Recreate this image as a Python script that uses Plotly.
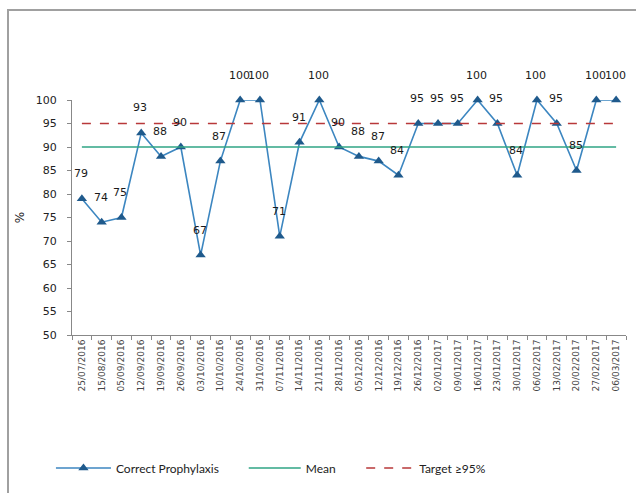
import plotly.graph_objects as go

# Weekly audit dates and percentage of correct prophylaxis
dates = [
    "25/07/2016", "15/08/2016", "05/09/2016", "12/09/2016", "19/09/2016",
    "26/09/2016", "03/10/2016", "10/10/2016", "24/10/2016", "31/10/2016",
    "07/11/2016", "14/11/2016", "21/11/2016", "28/11/2016", "05/12/2016",
    "12/12/2016", "19/12/2016", "26/12/2016", "02/01/2017", "09/01/2017",
    "16/01/2017", "23/01/2017", "30/01/2017", "06/02/2017", "13/02/2017",
    "20/02/2017", "27/02/2017", "06/03/2017",
]
correct = [79, 74, 75, 93, 88, 90, 67, 87, 100, 100, 71, 91, 100, 90, 88,
           87, 84, 95, 95, 95, 100, 95, 84, 100, 95, 85, 100, 100]
mean_val = [90] * len(dates)
target_val = [95] * len(dates)
y_ticks = [50, 55, 60, 65, 70, 75, 80, 85, 90, 95, 100]

fig = go.Figure()

fig.add_trace(go.Scatter(
    x=dates, y=correct, name="Correct Prophylaxis", mode="lines+markers",
    line=dict(color="#3c86c0", width=1.6),
    marker=dict(symbol="triangle-up", size=9, color="#1f5a8c"),
    cliponaxis=False, legend="legend",
))
fig.add_trace(go.Scatter(
    x=dates, y=mean_val, name="Mean", mode="lines",
    line=dict(color="#2fa585", width=1.6), legend="legend2",
))
fig.add_trace(go.Scatter(
    x=dates, y=target_val, name="Target \u226595%", mode="lines",
    line=dict(color="#b8383a", width=1.3, dash="dash"), legend="legend3",
))

# Value labels above each point
for d, v in zip(dates, correct):
    fig.add_annotation(
        x=d, y=v, text=str(v), showarrow=False, yshift=25, xshift=-1,
        font=dict(family="DejaVu Sans", size=11, color="#1a1a1a"),
    )

legend_font = dict(family="Lato", size=12, color="#222222")


def legend_box(x, width):
    return dict(
        orientation="h", x=x, xanchor="left", y=-0.566, yanchor="middle",
        font=legend_font, itemwidth=width, bgcolor="rgba(0,0,0,0)",
    )


fig.update_layout(
    width=636, height=493,
    margin=dict(l=72, r=10, t=100, b=158),
    paper_bgcolor="white", plot_bgcolor="white",
    showlegend=True,
    legend=legend_box(-0.038, 55),
    legend2=legend_box(0.31, 52),
    legend3=legend_box(0.522, 48),
    xaxis=dict(
        type="category", tickson="boundaries", ticks="outside", ticklen=4,
        tickcolor="#888888", showline=True, linecolor="#888888", linewidth=1,
        showgrid=False, tickangle=-90, range=[-0.5, len(dates) - 0.5],
        tickfont=dict(family="DejaVu Sans", size=9, color="#444444"),
    ),
    yaxis=dict(
        range=[50, 100], tickvals=y_ticks, ticks="outside", ticklen=4,
        tickcolor="#888888", showline=True, linecolor="#888888", linewidth=1,
        showgrid=False, zeroline=False, ticklabelstandoff=8,
        tickfont=dict(family="DejaVu Sans", size=11, color="#222222"),
        title=dict(text="%", font=dict(family="DejaVu Sans", size=12, color="#222222"),
                   standoff=8),
    ),
    shapes=[dict(
        type="rect", xref="paper", yref="paper",
        x0=(8 - 72) / 554, x1=1.1, y0=-0.8, y1=(335 - 10) / 235,
        line=dict(color="#a0a0a0", width=2), fillcolor="rgba(0,0,0,0)",
        layer="below",
    )],
)

fig.write_html("out.html")
